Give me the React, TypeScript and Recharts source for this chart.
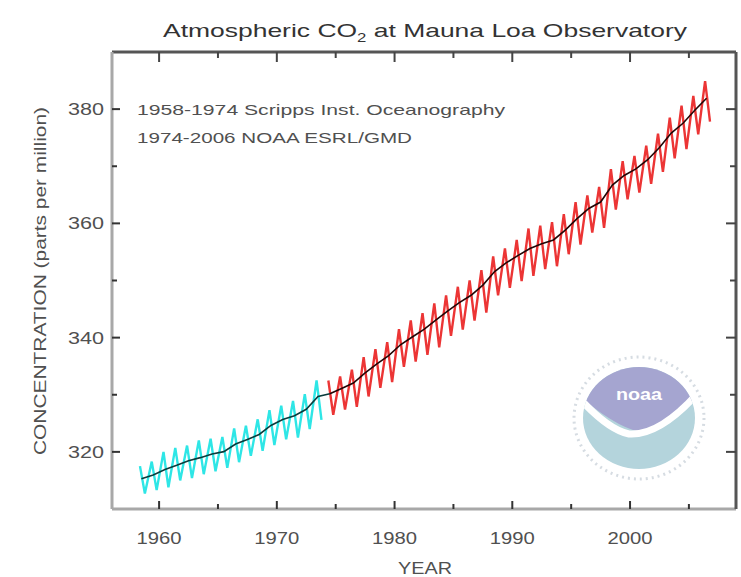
import { Line, LineChart, XAxis, YAxis } from 'recharts';

// years covered by the record
const years = [
  1958, 1959, 1960, 1961, 1962, 1963, 1964, 1965, 1966, 1967, 1968, 1969, 1970, 1971, 1972, 1973,
  1974, 1975, 1976, 1977, 1978, 1979, 1980, 1981, 1982, 1983, 1984, 1985, 1986, 1987, 1988, 1989,
  1990, 1991, 1992, 1993, 1994, 1995, 1996, 1997, 1998, 1999, 2000, 2001, 2002, 2003, 2004, 2005,
  2006,
];

// black line: yearly mean (ppm)
const annualMean = [
  315.3, 315.97, 316.91, 317.64, 318.45, 318.99, 319.62, 320.04, 321.38, 322.16, 323.04, 324.62,
  325.68, 326.32, 327.45, 329.68, 330.18, 331.11, 332.04, 333.83, 335.4, 336.84, 338.75, 340.11,
  341.45, 343.05, 344.65, 346.12, 347.42, 349.19, 351.57, 353.12, 354.39, 355.61, 356.45, 357.1,
  358.83, 360.82, 362.61, 363.73, 366.7, 368.38, 369.55, 371.14, 373.28, 375.8, 377.52, 379.8,
  381.9,
];

// seasonal high (spring) of the monthly record
const springPeak = [
  317.5, 318.3, 320.0, 320.7, 321.1, 322.0, 322.3, 322.6, 324.1, 324.6, 325.7, 327.3, 328.1, 328.9,
  330.1, 332.5, 332.5, 333.2, 334.4, 336.6, 338.0, 339.2, 341.5, 343.0, 344.3, 346.0, 347.4, 348.9,
  350.0, 351.8, 354.2, 355.6, 357.1, 359.1, 359.6, 360.2, 361.6, 363.7, 364.9, 366.4, 369.5, 370.9,
  371.8, 373.6, 375.7, 378.5, 380.6, 382.3, 384.9,
];

// seasonal low (autumn) of the monthly record
const autumnLow = [
  312.7, 313.3, 313.8, 315.0, 315.4, 316.1, 316.6, 317.2, 318.2, 319.3, 320.2, 321.2, 322.2, 322.5,
  324.0, 325.6, 326.5, 327.4, 327.9, 329.7, 331.2, 332.2, 334.9, 335.8, 337.0, 338.3, 340.3, 341.4,
  343.0, 344.4, 347.4, 348.7, 349.9, 350.8, 352.0, 352.5, 354.6, 356.3, 358.4, 359.2, 362.4, 364.2,
  365.4, 366.9, 369.0, 371.4, 373.0, 375.6, 377.8,
];

const xTicks = [1960, 1965, 1970, 1975, 1980, 1985, 1990, 1995, 2000, 2005];
const yTicks = [320, 330, 340, 350, 360, 370, 380];

const PEAK_MONTH = 5;
const LOW_MONTH = 10;

const monthPos = (year: number, month: number) => year + (month - 0.5) / 12;

const seasonal = (from: number, to: number) =>
  years.flatMap((y, i) =>
    y < from || y > to
      ? []
      : [
          { t: monthPos(y, PEAK_MONTH), v: springPeak[i] },
          { t: monthPos(y, LOW_MONTH), v: autumnLow[i] },
        ],
  );

const annual = (from: number, to: number) =>
  years.flatMap((y, i) => (y < from || y > to ? [] : [{ t: y + 0.5, v: annualMean[i] }]));

const scrippsMonthly = seasonal(1958, 1973);
const noaaMonthly = seasonal(1974, 2006);
const scrippsAnnual = annual(1958, 1974);
const noaaAnnual = annual(1974, 2006);

const FONT = '"Liberation Sans", Arial, sans-serif';
const LABEL = '#505050';

const BottomTick = ({ x, y, payload }: any) => {
  const major = payload.value % 10 === 0;
  return (
    <g>
      <line x1={x} x2={x} y1={y} y2={y - (major ? 8 : 5)} stroke="#333" strokeWidth={2} />
      {major && (
        <text
          x={x}
          y={y + 35}
          textAnchor="middle"
          fontSize={16}
          fontFamily={FONT}
          fill={LABEL}
          textLength={45}
          lengthAdjust="spacingAndGlyphs"
        >
          {payload.value}
        </text>
      )}
    </g>
  );
};

const TopTick = ({ x, y, payload }: any) => {
  const major = payload.value % 10 === 0;
  return <line x1={x} x2={x} y1={y} y2={y + (major ? 10 : 6)} stroke="#444" strokeWidth={2} />;
};

const LeftTick = ({ x, y, payload }: any) => {
  const major = payload.value % 20 === 0;
  return (
    <g>
      <line x1={x} x2={x + (major ? 8 : 5)} y1={y} y2={y} stroke="#333" strokeWidth={2} />
      {major && (
        <text
          x={x - 8}
          y={y + 6}
          textAnchor="end"
          fontSize={16}
          fontFamily={FONT}
          fill={LABEL}
          textLength={36}
          lengthAdjust="spacingAndGlyphs"
        >
          {payload.value}
        </text>
      )}
    </g>
  );
};

const RightTick = ({ x, y, payload }: any) => {
  const major = payload.value % 20 === 0;
  return <line x1={x} x2={x - (major ? 10 : 6)} y1={y} y2={y} stroke="#444" strokeWidth={2} />;
};

function NoaaLogo() {
  return (
    <g transform="translate(639,418)">
      <ellipse rx={65} ry={61} fill="none" stroke="#d6dce2" strokeWidth={3} strokeDasharray="2 4" />
      <clipPath id="disc">
        <ellipse rx={56} ry={51} />
      </clipPath>
      <g clipPath="url(#disc)">
        <rect x={-60} y={-60} width={120} height={120} fill="#b4d4dc" />
        <path d="M -60 -60 L 60 -60 L 60 -26 Q 30 10 8 14 Q -14 16 -60 -22 Z" fill="#a5a5d0" />
        <path
          d="M -58 -18 Q -30 12 -10 16 Q 20 18 58 -24"
          fill="none"
          stroke="#ffffff"
          strokeWidth={7}
        />
      </g>
      <text
        x={0}
        y={-18}
        textAnchor="middle"
        fontSize={17}
        fontWeight="bold"
        fontFamily={FONT}
        fill="#ffffff"
        textLength={46}
        lengthAdjust="spacingAndGlyphs"
      >
        noaa
      </text>
    </g>
  );
}

export default function App() {
  return (
    <div style={{ position: 'absolute', left: 0, top: 0, width: 741, height: 577, background: '#fff' }}>
      <LineChart width={741} height={577} margin={{ top: 51, right: 4, bottom: 67, left: 111 }}>
        <XAxis
          dataKey="t"
          type="number"
          domain={[1956, 2009]}
          ticks={xTicks}
          height={1}
          tickSize={0}
          tickMargin={0}
          tickLine={false}
          axisLine={{ stroke: '#a8a8a8', strokeWidth: 3 }}
          tick={BottomTick}
          interval={0}
          allowDataOverflow
        />
        <XAxis
          xAxisId="top"
          dataKey="t"
          orientation="top"
          type="number"
          domain={[1956, 2009]}
          ticks={xTicks}
          height={1}
          tickSize={0}
          tickMargin={0}
          tickLine={false}
          axisLine={{ stroke: '#555', strokeWidth: 3 }}
          tick={TopTick}
          interval={0}
          allowDataOverflow
        />
        <YAxis
          type="number"
          domain={[310, 390]}
          ticks={yTicks}
          width={1}
          tickSize={0}
          tickMargin={0}
          tickLine={false}
          axisLine={{ stroke: '#a8a8a8', strokeWidth: 3 }}
          tick={LeftTick}
          interval={0}
          allowDataOverflow
        />
        <YAxis
          yAxisId="right"
          orientation="right"
          type="number"
          domain={[310, 390]}
          ticks={yTicks}
          width={1}
          tickSize={0}
          tickMargin={0}
          tickLine={false}
          axisLine={{ stroke: '#555', strokeWidth: 3 }}
          tick={RightTick}
          interval={0}
          allowDataOverflow
        />
        <Line data={scrippsMonthly} dataKey="v" type="linear" stroke="#2ee6e6" strokeWidth={2.4} dot={false} isAnimationActive={false} />
        <Line data={noaaMonthly} dataKey="v" type="linear" stroke="#ec3535" strokeWidth={2.4} dot={false} isAnimationActive={false} />
        <Line data={scrippsAnnual} dataKey="v" type="linear" stroke="#0a3c3c" strokeWidth={1.6} dot={false} isAnimationActive={false} />
        <Line data={noaaAnnual} dataKey="v" type="linear" stroke="#220606" strokeWidth={1.6} dot={false} isAnimationActive={false} />
      </LineChart>
      <svg
        width={741}
        height={577}
        style={{ position: 'absolute', left: 0, top: 0, pointerEvents: 'none' }}
      >
        <text
          x={163}
          y={37}
          fontSize={19}
          fontFamily={FONT}
          fill="#333"
          textLength={524}
          lengthAdjust="spacingAndGlyphs"
        >
          Atmospheric CO
          <tspan fontSize={12} dy={5}>
            2
          </tspan>
          <tspan dy={-5}> at Mauna Loa Observatory</tspan>
        </text>
        <text x={137} y={115} fontSize={15} fontFamily={FONT} fill={LABEL} textLength={368} lengthAdjust="spacingAndGlyphs">
          1958-1974 Scripps Inst. Oceanography
        </text>
        <text x={137} y={143} fontSize={15} fontFamily={FONT} fill={LABEL} textLength={275} lengthAdjust="spacingAndGlyphs">
          1974-2006 NOAA ESRL/GMD
        </text>
        <text
          x={425}
          y={574}
          textAnchor="middle"
          fontSize={16}
          fontFamily={FONT}
          fill={LABEL}
          textLength={54}
          lengthAdjust="spacingAndGlyphs"
        >
          YEAR
        </text>
        <text
          transform="translate(46,281) rotate(-90)"
          textAnchor="middle"
          fontSize={16}
          fontFamily={FONT}
          fill={LABEL}
          textLength={348}
          lengthAdjust="spacingAndGlyphs"
        >
          CONCENTRATION (parts per million)
        </text>
        <NoaaLogo />
      </svg>
    </div>
  );
}
